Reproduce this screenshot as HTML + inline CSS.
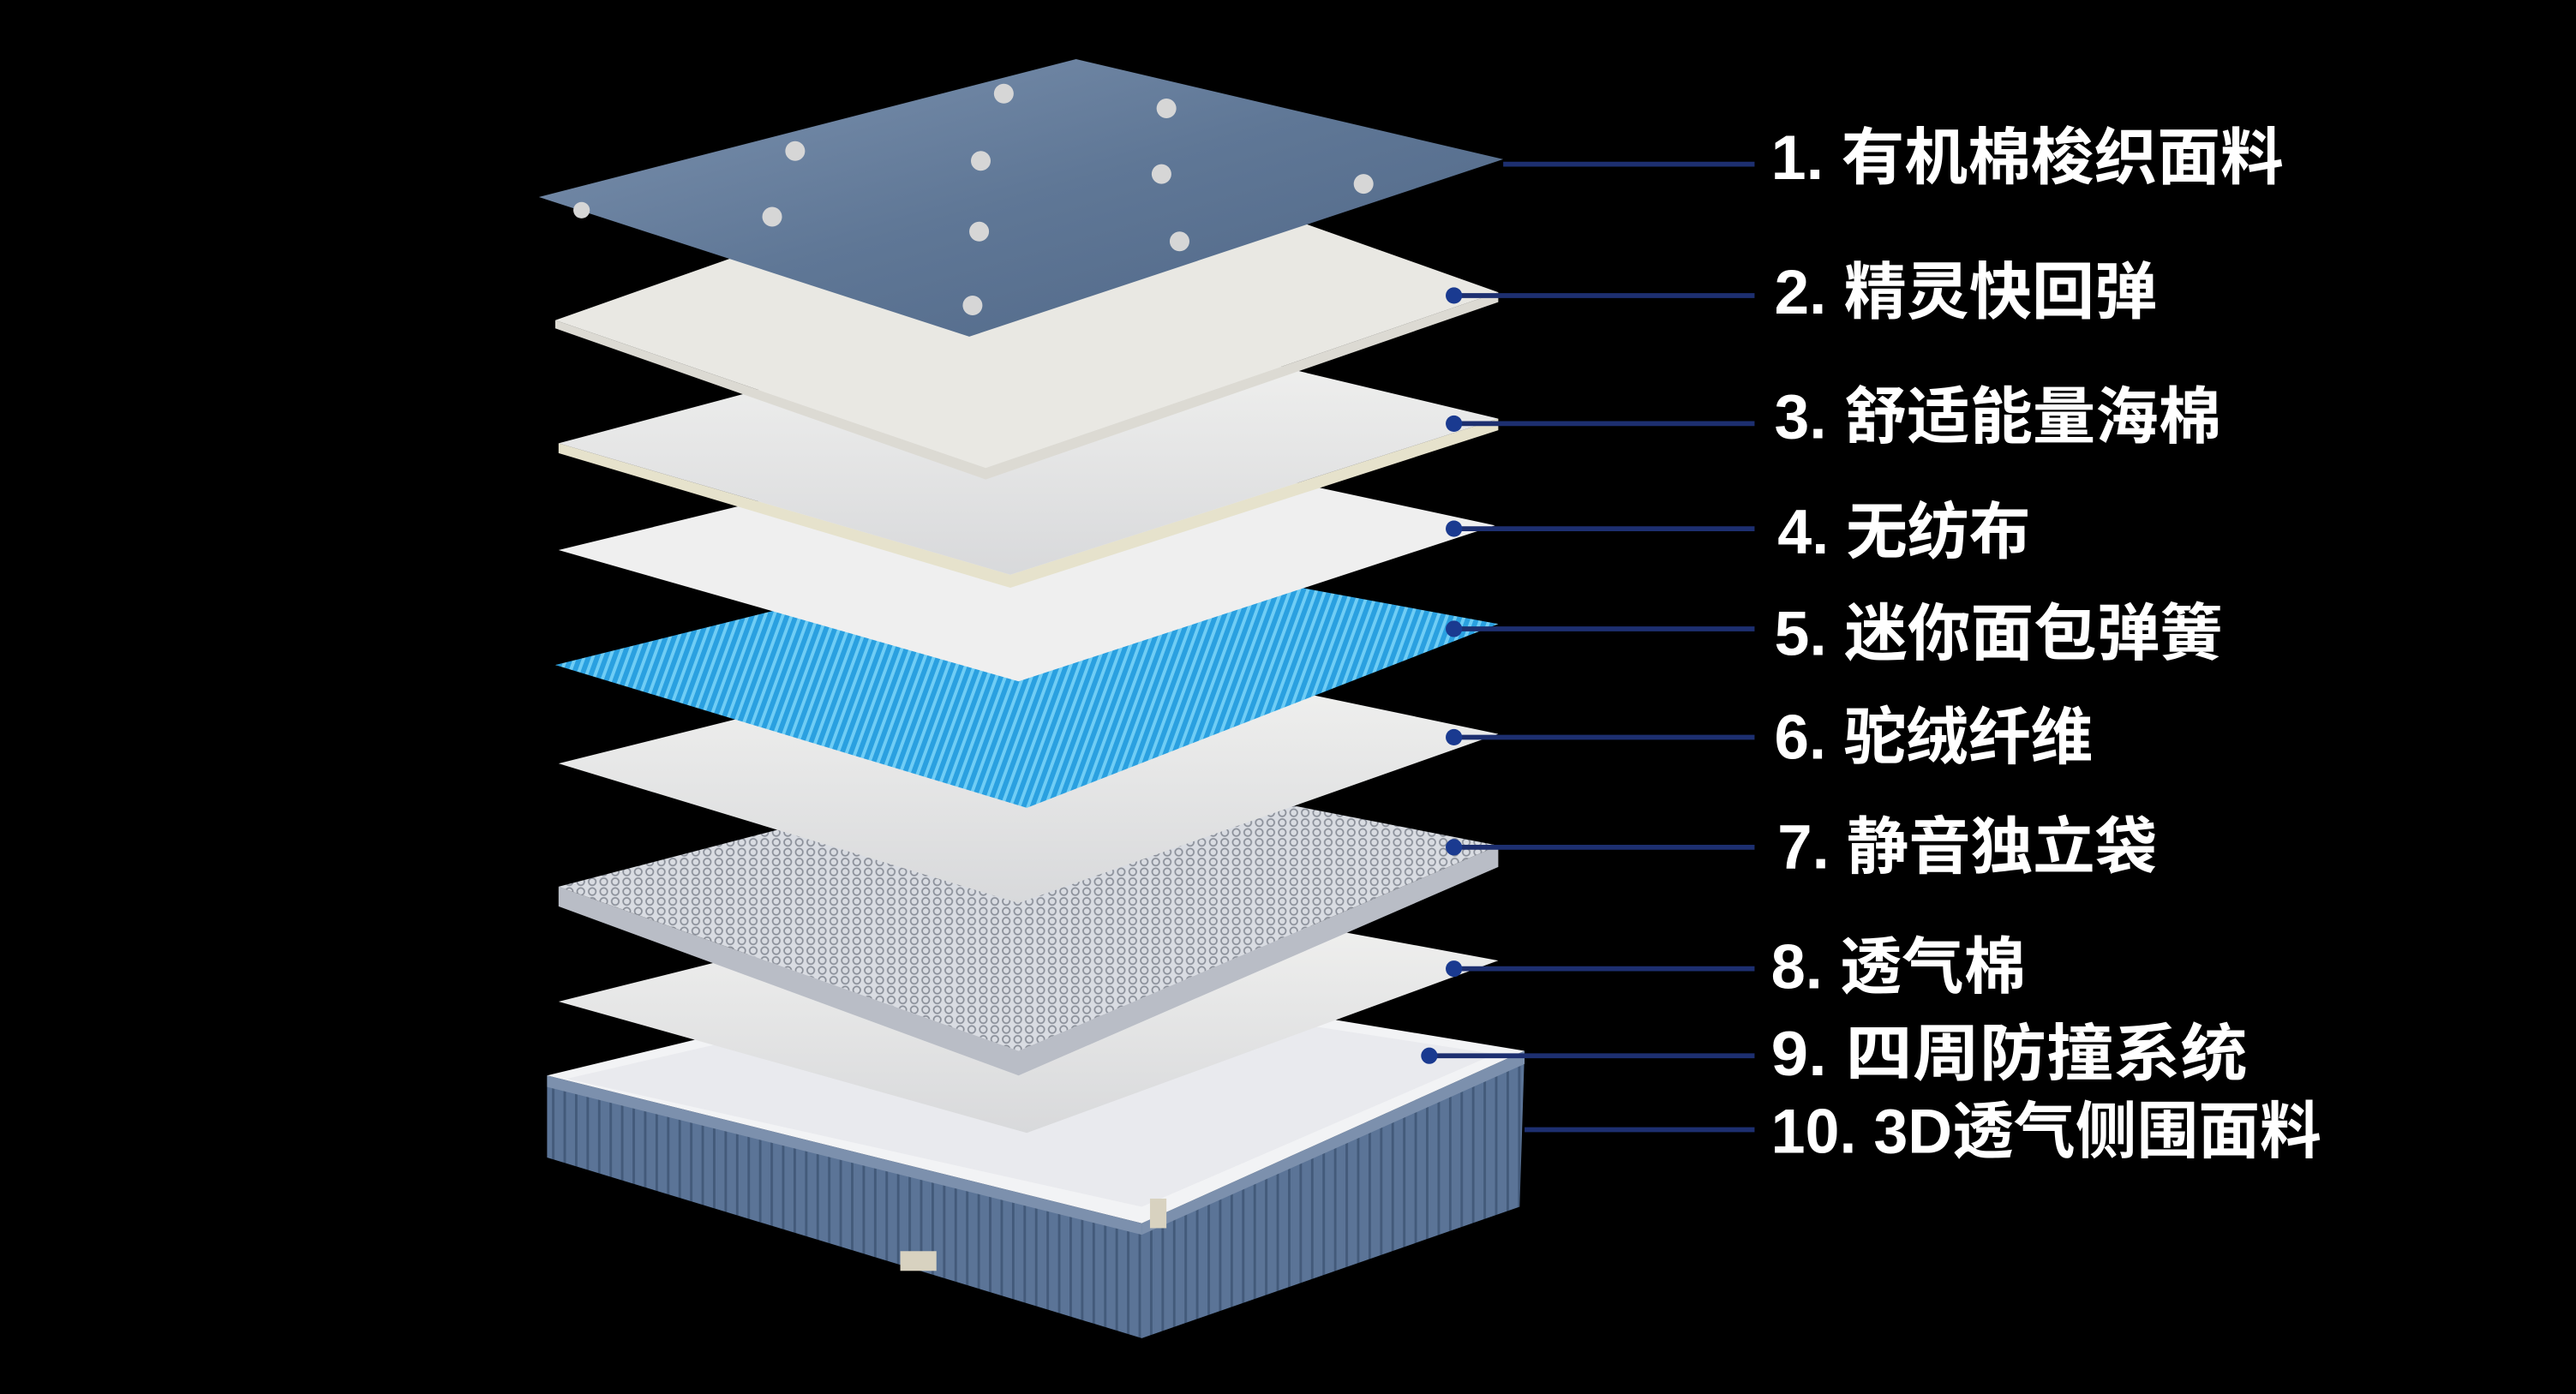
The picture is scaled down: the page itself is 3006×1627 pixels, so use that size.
<!DOCTYPE html>
<html><head><meta charset="utf-8"><style>
html,body{margin:0;padding:0;background:#000;}
svg{display:block}
text{font-family:"Liberation Sans","Noto Sans CJK SC",sans-serif;font-weight:bold;fill:#fff;font-size:38px}
</style></head><body>
<svg width="3006" height="1627" viewBox="0 0 1568 849" preserveAspectRatio="none" xmlns="http://www.w3.org/2000/svg">
<defs>
<linearGradient id="blue" x1="0" y1="0" x2="1" y2="1">
<stop offset="0" stop-color="#7d93b0"/><stop offset="0.5" stop-color="#5f7796"/><stop offset="1" stop-color="#4f6686"/></linearGradient>
<linearGradient id="wht" x1="0" y1="0" x2="0" y2="1">
<stop offset="0" stop-color="#f4f4f2"/><stop offset="1" stop-color="#d8d9db"/></linearGradient>
<linearGradient id="cyan" x1="0" y1="0" x2="1" y2="1">
<stop offset="0" stop-color="#3fb4ec"/><stop offset="1" stop-color="#1b8ed2"/></linearGradient>
<pattern id="sp" width="5" height="5" patternUnits="userSpaceOnUse" patternTransform="rotate(20)">
<rect width="5" height="5" fill="#2aa0e0"/><rect width="2" height="5" fill="#6fcdf5"/></pattern>
<pattern id="coil" width="7" height="6" patternUnits="userSpaceOnUse">
<rect width="7" height="6" fill="#d9dce2"/><circle cx="3.5" cy="3" r="2.2" fill="none" stroke="#8a8f99" stroke-width="0.9"/></pattern>
<pattern id="side" width="7" height="10" patternUnits="userSpaceOnUse">
<rect width="7" height="10" fill="#5b7497"/><rect width="1.5" height="10" fill="#435a7a"/></pattern>
</defs>
<!-- base -->
<polygon points="333,655 333,705 695,815 925,735 928,640 695,745" fill="url(#side)"/>
<polygon points="333,655 610,588 928,640 695,745" fill="#f2f3f5"/>
<polygon points="345,657 610,596 910,642 695,735" fill="#e9eaee"/>
<polygon points="333,655 695,745 695,752 333,662" fill="#7c90ad"/>
<polygon points="695,745 928,640 928,648 695,752" fill="#7c90ad"/>
<rect x="548" y="762" width="22" height="12" fill="#d8d2c0"/>
<rect x="700" y="730" width="10" height="18" fill="#d8d2c0"/>
<!-- 8 -->
<polygon points="340,610 640,535 912,585 625,690" fill="url(#wht)"/>
<!-- 7 springs -->
<polygon points="340,540 340,552 620,655 912,528 912,515 620,640" fill="#b9bdc6"/>
<polygon points="340,540 640,462 912,515 620,640" fill="url(#coil)"/>
<!-- 6 -->
<polygon points="340,465 640,390 912,447 620,550" fill="url(#wht)"/>
<!-- 5 -->
<polygon points="338,405 640,330 912,380 625,492" fill="url(#sp)"/>
<!-- 4 -->
<polygon points="340,335 640,262 910,320 620,415" fill="#efefef"/>
<!-- 3 -->
<polygon points="340,270 340,276 615,358 912,262 912,255 615,350" fill="#e6e2cc"/>
<polygon points="340,270 640,190 912,255 615,350" fill="url(#wht)"/>
<!-- 2 -->
<polygon points="338,195 338,200 600,292 912,184 912,178 600,285" fill="#dcdad3"/>
<polygon points="338,195 650,85 912,178 600,285" fill="#e9e8e3"/>
<!-- 1 -->
<polygon points="328,120 655,36 915,97 590,205" fill="url(#blue)"/>
<g fill="#d6d6d6">
<circle cx="611" cy="57" r="6"/><circle cx="710" cy="66" r="6"/>
<circle cx="484" cy="92" r="6"/><circle cx="597" cy="98" r="6"/><circle cx="707" cy="106" r="6"/><circle cx="830" cy="112" r="6"/>
<circle cx="354" cy="128" r="5"/><circle cx="470" cy="132" r="6"/><circle cx="596" cy="141" r="6"/><circle cx="718" cy="147" r="6"/>
<circle cx="592" cy="186" r="6"/>
</g>
<!-- connectors -->
<g stroke="#1d2f70" stroke-width="3">
<line x1="915" y1="100" x2="1068" y2="100"/>
<line x1="885" y1="180" x2="1068" y2="180"/>
<line x1="885" y1="258" x2="1068" y2="258"/>
<line x1="885" y1="322" x2="1068" y2="322"/>
<line x1="885" y1="383" x2="1068" y2="383"/>
<line x1="885" y1="449" x2="1068" y2="449"/>
<line x1="885" y1="516" x2="1068" y2="516"/>
<line x1="885" y1="590" x2="1068" y2="590"/>
<line x1="870" y1="643" x2="1068" y2="643"/>
<line x1="928" y1="688" x2="1068" y2="688"/>
</g>
<g fill="#1a3a90">
<circle cx="885" cy="180" r="5"/><circle cx="885" cy="258" r="5"/><circle cx="885" cy="322" r="5"/>
<circle cx="885" cy="383" r="5"/><circle cx="885" cy="449" r="5"/><circle cx="885" cy="516" r="5"/>
<circle cx="885" cy="590" r="5"/><circle cx="870" cy="643" r="5"/>
</g>
<text x="1078" y="109" textLength="312" lengthAdjust="spacingAndGlyphs">1. 有机棉梭织面料</text>
<text x="1080" y="191" textLength="233" lengthAdjust="spacingAndGlyphs">2. 精灵快回弹</text>
<text x="1080" y="267" textLength="272" lengthAdjust="spacingAndGlyphs">3. 舒适能量海棉</text>
<text x="1082" y="337" textLength="154" lengthAdjust="spacingAndGlyphs">4. 无纺布</text>
<text x="1080" y="399" textLength="273" lengthAdjust="spacingAndGlyphs">5. 迷你面包弹簧</text>
<text x="1080" y="462" textLength="194" lengthAdjust="spacingAndGlyphs">6. 驼绒纤维</text>
<text x="1082" y="529" textLength="231" lengthAdjust="spacingAndGlyphs">7. 静音独立袋</text>
<text x="1078" y="602" textLength="155" lengthAdjust="spacingAndGlyphs">8. 透气棉</text>
<text x="1078" y="655" textLength="290" lengthAdjust="spacingAndGlyphs">9. 四周防撞系统</text>
<text x="1078" y="702" textLength="335" lengthAdjust="spacingAndGlyphs">10. 3D透气侧围面料</text>
</svg>
</body></html>
